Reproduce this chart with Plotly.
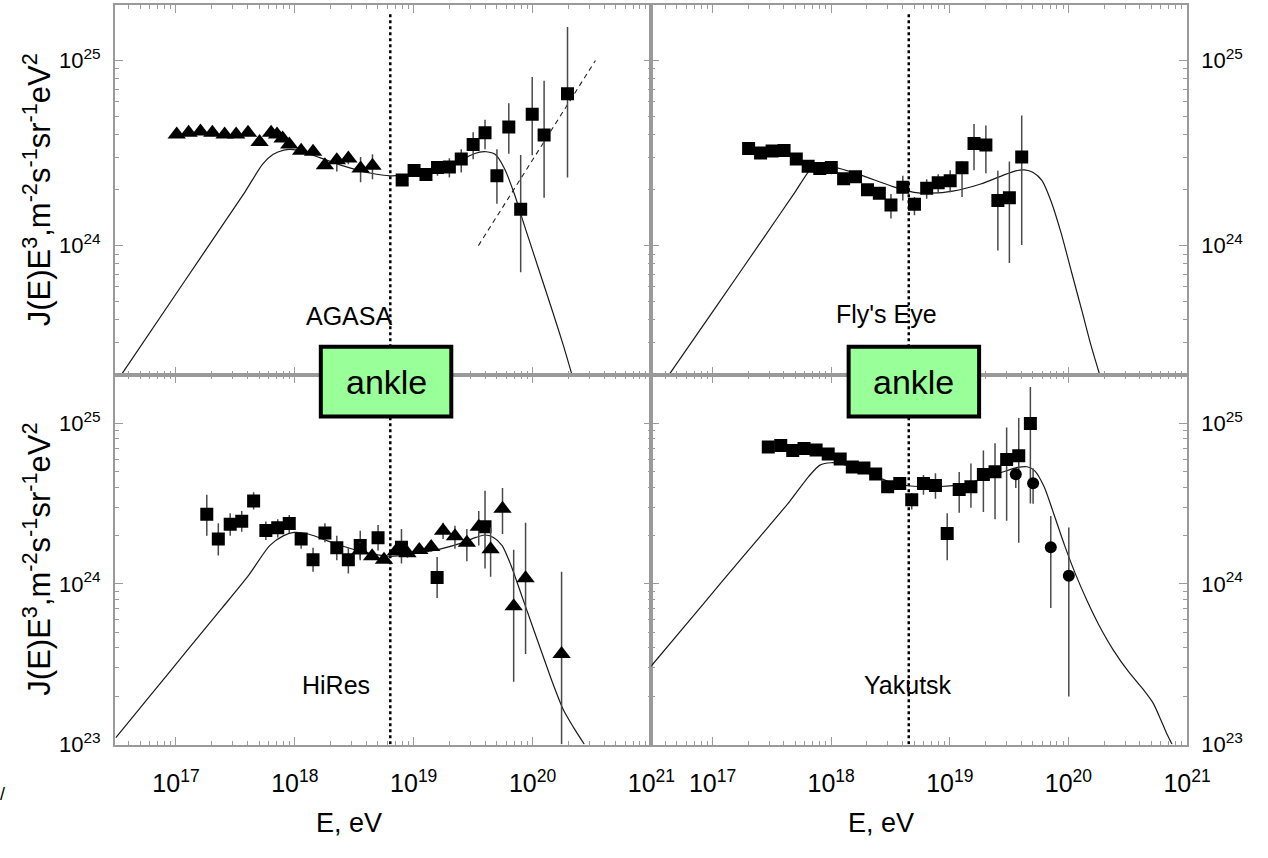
import numpy as np
import plotly.graph_objects as go

# ---------------- data (log10 values) ----------------
# AGASA
agasa_tri_logE = [17.006, 17.106, 17.206, 17.306, 17.409, 17.506, 17.606, 17.703, 17.800, 17.850,
                  17.897, 17.953, 18.053, 18.153, 18.253, 18.353, 18.450, 18.553, 18.653]
agasa_tri_logJ = [24.600, 24.609, 24.617, 24.609, 24.600, 24.600, 24.609, 24.559, 24.609, 24.600,
                  24.578, 24.546, 24.512, 24.507, 24.434, 24.461, 24.470, 24.416, 24.431]
agasa_tri_hi = [None] * 14 + [24.453, 24.493, 24.493, 24.479, 24.493]
agasa_tri_lo = [None] * 14 + [24.416, 24.400, 24.440, 24.342, 24.359]

agasa_sq_logE = [18.903, 19.003, 19.103, 19.200, 19.300, 19.400, 19.500, 19.600, 19.700, 19.800,
                 19.900, 19.997, 20.097, 20.294]
agasa_sq_logJ = [24.354, 24.406, 24.384, 24.422, 24.425, 24.468, 24.546, 24.609, 24.377, 24.641,
                 24.197, 24.710, 24.598, 24.820]
agasa_sq_hi = [24.377, 24.431, 24.404, 24.448, 24.472, 24.520, 24.612, 24.680, 24.520, 24.769,
               24.489, 24.911, 24.890, 25.181]
agasa_sq_lo = [24.333, 24.377, 24.359, 24.377, 24.368, 24.395, 24.466, 24.520, 24.226, 24.496,
               23.856, 24.488, 24.258, 24.368]

agasa_dash_logE = [19.544, 20.529]
agasa_dash_logJ = [24.0, 25.0]

agasa_fit_logE = [16.538, 17.082, 17.376, 17.582, 17.729, 17.818, 17.906, 17.965, 18.053, 18.171,
                  18.406, 18.641, 18.803, 18.994, 19.171, 19.347, 19.465, 19.553, 19.612, 19.685,
                  19.759, 19.847, 19.935, 20.053, 20.171, 20.259, 20.332]
agasa_fit_logJ = [23.301, 23.817, 24.096, 24.292, 24.440, 24.493, 24.516, 24.520, 24.511, 24.484,
                  24.431, 24.391, 24.377, 24.386, 24.407, 24.440, 24.484, 24.505, 24.507, 24.493,
                  24.422, 24.279, 24.101, 23.870, 23.639, 23.461, 23.301]

# Fly's Eye
fly_sq_logE = [17.304, 17.405, 17.502, 17.603, 17.706, 17.806, 17.904, 18.001, 18.105, 18.205,
               18.306, 18.406, 18.504, 18.604, 18.702, 18.805, 18.902, 19.003, 19.103, 19.204,
               19.304, 19.405, 19.502, 19.606]
fly_sq_logJ = [24.525, 24.500, 24.511, 24.514, 24.468, 24.429, 24.416, 24.422, 24.361, 24.372,
               24.302, 24.283, 24.219, 24.315, 24.224, 24.310, 24.340, 24.351, 24.420, 24.552,
               24.544, 24.244, 24.258, 24.479]
fly_sq_hi = [None] * 7 + [24.448] + [None] * 4 + [24.279, 24.377, 24.262, 24.359, 24.386, 24.407,
                                               24.455, 24.657, 24.649, 24.404, 24.454, 24.703]
fly_sq_lo = [None] * 7 + [24.386] + [None] * 4 + [24.146, 24.244, 24.164, 24.253, 24.283, 24.288,
                                               24.262, 24.407, 24.391, 23.973, 23.906, 24.004]

fly_fit_logE = [16.631, 17.044, 17.428, 17.694, 17.842, 17.931, 18.019, 18.226, 18.521, 18.699,
                18.846, 19.024, 19.260, 19.437, 19.555, 19.629, 19.703, 19.777, 19.851, 19.939,
                20.028, 20.117, 20.190, 20.264]
fly_fit_logJ = [23.301, 23.683, 24.039, 24.288, 24.422, 24.431, 24.425, 24.386, 24.319, 24.288,
                24.283, 24.294, 24.333, 24.377, 24.404, 24.409, 24.395, 24.351, 24.244, 24.066,
                23.852, 23.639, 23.461, 23.301]

# HiRes
hires_sq_logE = [17.259, 17.356, 17.456, 17.553, 17.653, 17.756, 17.856, 17.953, 18.053, 18.153,
                 18.253, 18.353, 18.450, 18.550, 18.700, 18.897, 19.197, 19.600]
hires_sq_logJ = [24.434, 24.280, 24.372, 24.391, 24.517, 24.333, 24.350, 24.376, 24.280, 24.151,
                 24.317, 24.225, 24.151, 24.239, 24.288, 24.229, 24.041, 24.356]
hires_sq_hi = [24.556, 24.378, 24.440, 24.454, 24.571, 24.389, 24.403, 24.429, 24.321, 24.225,
               24.378, 24.301, 24.225, 24.331, 24.368, 24.342, 24.168, 24.581]
hires_sq_lo = [24.301, 24.178, 24.301, 24.325, 24.464, 24.274, 24.290, 24.317, 24.219, 24.076,
               24.260, 24.147, 24.065, 24.147, 24.209, 24.127, 23.912, 24.096]

hires_tri_logE = [18.550, 18.650, 18.750, 18.850, 18.947, 19.047, 19.147, 19.247, 19.347, 19.447,
                  19.547, 19.647, 19.747, 19.841, 19.941, 20.244]
hires_tri_logJ = [24.209, 24.172, 24.151, 24.204, 24.192, 24.211, 24.231, 24.331, 24.297, 24.256,
                  24.356, 24.217, 24.468, 23.861, 24.035, 23.564]
hires_tri_hi = [24.260, None, None, None, 24.240, None, 24.260, 24.382, 24.362, 24.342,
                24.454, 24.352, 24.597, 24.213, 24.382, 24.076]
hires_tri_lo = [24.157, None, None, None, 24.164, None, 24.200, 24.280, 24.219, 24.141,
                24.239, 24.045, 24.311, 23.391, 23.564, 23.002]

hires_fit_logE = [16.494, 16.788, 17.082, 17.376, 17.612, 17.788, 17.906, 17.994, 18.112, 18.347,
                  18.582, 18.803, 18.994, 19.229, 19.406, 19.524, 19.597, 19.671, 19.744, 19.818,
                  19.906, 19.994, 20.082, 20.171, 20.259, 20.347, 20.435]
hires_fit_logJ = [23.043, 23.309, 23.575, 23.840, 24.055, 24.239, 24.301, 24.321, 24.311, 24.249,
                  24.198, 24.172, 24.188, 24.219, 24.256, 24.290, 24.305, 24.290, 24.239, 24.117,
                  23.933, 23.748, 23.564, 23.380, 23.217, 23.104, 23.002]

# Yakutsk
yak_sq_logE = [17.470, 17.575, 17.676, 17.771, 17.873, 17.975, 18.076, 18.178, 18.276, 18.375,
               18.476, 18.578, 18.679, 18.778, 18.879, 18.978, 19.079, 19.178, 19.283, 19.381,
               19.479, 19.581, 19.679]
yak_sq_logJ = [24.853, 24.863, 24.832, 24.843, 24.834, 24.810, 24.779, 24.728, 24.722, 24.685,
               24.605, 24.626, 24.524, 24.626, 24.613, 24.315, 24.589, 24.605, 24.681, 24.699,
               24.775, 24.798, 25.000]
yak_sq_hi = [None] * 11 + [24.648, 24.566, 24.679, 24.689, 24.440, 24.697, 24.751, 24.832, 24.877,
                           24.975, 25.033, 25.227]
yak_sq_lo = [None] * 11 + [24.597, 24.464, 24.556, 24.530, 24.148, 24.444, 24.474, 24.448, 24.403,
                           24.393, 24.256, 24.501]

yak_ci_logE = [19.556, 19.702, 19.851, 20.003]
yak_ci_logJ = [24.683, 24.628, 24.229, 24.051]
yak_ci_hi = [24.720, 24.720, 24.423, 24.352]
yak_ci_lo = [24.597, 24.499, 23.851, 23.299]

yak_fit_logE = [16.476, 16.762, 17.079, 17.397, 17.651, 17.810, 17.905, 18.000, 18.095, 18.222,
                18.381, 18.540, 18.730, 18.921, 19.111, 19.270, 19.429, 19.571, 19.651, 19.714,
                19.794, 19.873, 19.968, 20.063, 20.159, 20.254, 20.381, 20.508, 20.635, 20.714,
                20.778, 20.825, 20.873]
yak_fit_logJ = [23.483, 23.734, 24.014, 24.292, 24.515, 24.669, 24.740, 24.755, 24.746, 24.714,
                24.669, 24.624, 24.607, 24.607, 24.622, 24.652, 24.693, 24.726, 24.730, 24.706,
                24.607, 24.444, 24.239, 24.055, 23.892, 23.748, 23.585, 23.452, 23.339, 23.258,
                23.155, 23.074, 23.002]

# ankle positions (log10 E)
ankle_left_logE = 18.803
ankle_right_logE = 18.654

panel_names = ["AGASA", "Fly's Eye", "HiRes", "Yakutsk"]

x_major_exp = [17, 18, 19, 20, 21]
y_major_exp = [23, 24, 25]
x_range = [16.485, 21.0]
y_range_top = [23.3, 25.3]
y_range_bot = [23.0, 25.3]

# ---------------- layout geometry (pixels) ----------------
W, H = 1268, 858
XL = (117, 664)
XR = (664, 1210)
YT = (5, 381)
YB = (381, 756)


def px_x(a):
    return a / W


def px_y(a):
    return 1 - a / H


FONT = "Liberation Sans, Arial, Helvetica, sans-serif"
AXC = "#9a9a9a"
ERRC = "#4a4a4a"


def tolin(v):
    return np.power(10.0, np.asarray(v, dtype=float))


def errs(logJ, hi, lo):
    y = tolin(logJ)
    plus = np.array([0.0 if h is None else 10 ** h for h in hi])
    minus = np.array([0.0 if l is None else 10 ** l for l in lo])
    plus = np.where(plus > 0, plus - y, 0.0)
    minus = np.where(minus > 0, y - minus, 0.0)
    return plus, minus


fig = go.Figure()


def add_fit(logE, logJ, xa, ya):
    fig.add_trace(go.Scatter(x=tolin(logE), y=tolin(logJ), mode="lines",
                             line=dict(color="#1a1a1a", width=1.2, shape="spline", smoothing=0.7),
                             xaxis=xa, yaxis=ya, hoverinfo="skip", showlegend=False))


def add_pts(logE, logJ, hi, lo, symbol, size, xa, ya):
    plus, minus = errs(logJ, hi, lo)
    fig.add_trace(go.Scatter(x=tolin(logE), y=tolin(logJ), mode="markers",
                             marker=dict(symbol=symbol, size=size, color="black", line=dict(width=0)),
                             error_y=dict(type="data", symmetric=False, array=plus, arrayminus=minus,
                                          color=ERRC, thickness=1.5, width=0),
                             xaxis=xa, yaxis=ya, showlegend=False))


def add_ankle(logE, yr, xa, ya):
    fig.add_trace(go.Scatter(x=tolin([logE, logE]), y=tolin(yr), mode="lines",
                             line=dict(color="black", width=2.5, dash="dot"),
                             xaxis=xa, yaxis=ya, hoverinfo="skip", showlegend=False))


# top-left: AGASA
add_ankle(ankle_left_logE, [25.25, 23.3], "x", "y")
add_fit(agasa_fit_logE, agasa_fit_logJ, "x", "y")
fig.add_trace(go.Scatter(x=tolin(agasa_dash_logE), y=tolin(agasa_dash_logJ), mode="lines",
                         line=dict(color="#222", width=1.1, dash="5px,4px"),
                         xaxis="x", yaxis="y", showlegend=False))
add_pts(agasa_tri_logE, agasa_tri_logJ, agasa_tri_hi, agasa_tri_lo, "triangle-up", 16, "x", "y")
add_pts(agasa_sq_logE, agasa_sq_logJ, agasa_sq_hi, agasa_sq_lo, "square", 13, "x", "y")

# top-right: Fly's Eye
add_ankle(ankle_right_logE, [25.25, 23.3], "x2", "y2")
add_fit(fly_fit_logE, fly_fit_logJ, "x2", "y2")
add_pts(fly_sq_logE, fly_sq_logJ, fly_sq_hi, fly_sq_lo, "square", 13, "x2", "y2")

# bottom-left: HiRes
add_ankle(ankle_left_logE, [25.3, 23.0], "x3", "y3")
add_fit(hires_fit_logE, hires_fit_logJ, "x3", "y3")
add_pts(hires_sq_logE, hires_sq_logJ, hires_sq_hi, hires_sq_lo, "square", 13, "x3", "y3")
add_pts(hires_tri_logE, hires_tri_logJ, hires_tri_hi, hires_tri_lo, "triangle-up", 16, "x3", "y3")

# bottom-right: Yakutsk
add_ankle(ankle_right_logE, [25.3, 23.0], "x4", "y4")
add_fit(yak_fit_logE, yak_fit_logJ, "x4", "y4")
add_pts(yak_sq_logE, yak_sq_logJ, yak_sq_hi, yak_sq_lo, "square", 13, "x4", "y4")
add_pts(yak_ci_logE, yak_ci_logJ, yak_ci_hi, yak_ci_lo, "circle", 12, "x4", "y4")

# ---------------- axes ----------------
x_minor = [k * 10.0 ** d for d in range(16, 21) for k in range(2, 10)]
y_minor = [k * 10.0 ** d for d in range(22, 26) for k in range(2, 10)]
x_tickvals = [10.0 ** e for e in x_major_exp]
x_ticktext = ["10<sup>%d</sup>" % e for e in x_major_exp]
y_tickvals = [10.0 ** e for e in y_major_exp]
y_ticktext = ["10<sup>%d</sup>" % e for e in y_major_exp]

common = dict(type="log", showline=True, linecolor=AXC, linewidth=1.5, mirror="allticks",
              ticks="inside", ticklen=8, tickwidth=1, tickcolor=AXC, showgrid=False, zeroline=False,
              minor=dict(ticks="inside", ticklen=4, tickwidth=1, tickcolor=AXC, tickvals=None,
                         showgrid=False))


def xaxis_cfg(domain, anchor, show_labels):
    d = dict(common)
    d["minor"] = dict(common["minor"], tickvals=x_minor)
    d.update(domain=domain, anchor=anchor, range=x_range, tickmode="array",
             tickvals=x_tickvals, ticktext=x_ticktext, showticklabels=show_labels,
             tickfont=dict(family=FONT, size=25, color="black"), ticklabelstandoff=16)
    return d


def yaxis_cfg(domain, anchor, rng, side):
    d = dict(common)
    d["minor"] = dict(common["minor"], tickvals=y_minor)
    d.update(domain=domain, anchor=anchor, range=rng, tickmode="array", side=side,
             tickvals=y_tickvals, ticktext=y_ticktext,
             tickfont=dict(family=FONT, size=22, color="black"), ticklabelstandoff=8)
    return d


dxl = [px_x(XL[0]), px_x(XL[1])]
dxr = [px_x(XR[0]), px_x(XR[1])]
dyt = [px_y(YT[1]), px_y(YT[0])]
dyb = [px_y(YB[1]), px_y(YB[0])]

fig.update_layout(
    width=W, height=H, autosize=False, margin=dict(l=0, r=0, t=0, b=0, pad=0),
    paper_bgcolor="white", plot_bgcolor="white", showlegend=False,
    font=dict(family=FONT, color="black"),
    xaxis=xaxis_cfg(dxl, "y", False),
    xaxis2=xaxis_cfg(dxr, "y2", False),
    xaxis3=xaxis_cfg(dxl, "y3", True),
    xaxis4=xaxis_cfg(dxr, "y4", True),
    yaxis=yaxis_cfg(dyt, "x", y_range_top, "left"),
    yaxis2=yaxis_cfg(dyt, "x2", y_range_top, "right"),
    yaxis3=yaxis_cfg(dyb, "x3", y_range_bot, "left"),
    yaxis4=yaxis_cfg(dyb, "x4", y_range_bot, "right"),
)

# ---------------- ankle boxes ----------------
for (x0, x1) in [(327, 460), (865, 998)]:
    fig.add_shape(type="rect", xref="paper", yref="paper",
                  x0=px_x(x0), x1=px_x(x1), y0=px_y(423), y1=px_y(352),
                  line=dict(color="black", width=4), fillcolor="#99ff99", layer="above")
    fig.add_annotation(text="ankle", xref="paper", yref="paper",
                       x=px_x((x0 + x1) / 2), y=px_y(388), showarrow=False,
                       font=dict(family=FONT, size=34, color="black"),
                       xanchor="center", yanchor="middle")

# ---------------- texts ----------------
label_pos = [(356, 321), (904, 319), (342, 696), (926, 696)]
for name, (lx, ly) in zip(panel_names, label_pos):
    fig.add_annotation(text=name, xref="paper", yref="paper", x=px_x(lx), y=px_y(ly),
                       showarrow=False, font=dict(family=FONT, size=25, color="black"),
                       xanchor="center", yanchor="middle")

ytitle = "J(E)E<sup>3</sup>,m<sup>-2</sup>s<sup>-1</sup>sr<sup>-1</sup>eV<sup>2</sup>"
for cy in [193, 568]:
    fig.add_annotation(text=ytitle, xref="paper", yref="paper", x=px_x(38), y=px_y(cy),
                       showarrow=False, textangle=-90,
                       font=dict(family=FONT, size=31, color="black"),
                       xanchor="center", yanchor="middle")

for cx in [356, 898]:
    fig.add_annotation(text="E, eV", xref="paper", yref="paper", x=px_x(cx), y=px_y(836),
                       showarrow=False, font=dict(family=FONT, size=27, color="black"),
                       xanchor="center", yanchor="middle")

fig.add_annotation(text="/", xref="paper", yref="paper", x=px_x(3), y=px_y(806),
                   showarrow=False, font=dict(family=FONT, size=18, color="black"),
                   xanchor="center", yanchor="middle")

fig.write_html("out.html",
               post_script="document.body.style.margin='0';document.body.style.overflow='hidden';")
